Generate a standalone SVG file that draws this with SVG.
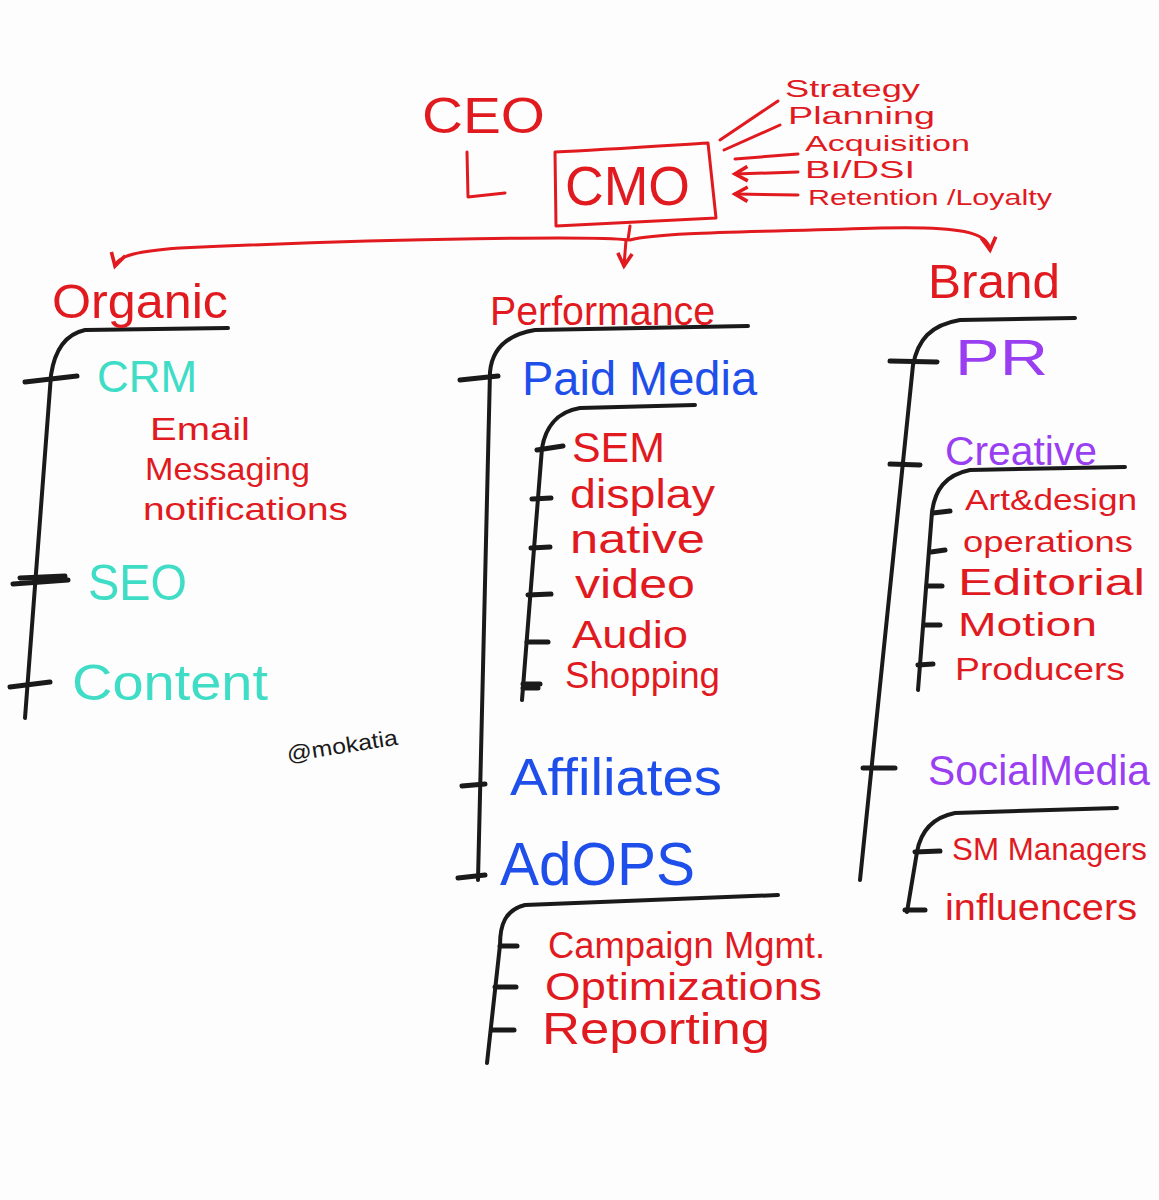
<svg xmlns="http://www.w3.org/2000/svg" width="1159" height="1200" viewBox="0 0 1159 1200">
<style>
text{font-family:"Liberation Sans","DejaVu Sans",sans-serif;}
.r{fill:#e01a1f;}
.t{fill:#3fdcc6;}
.b{fill:#1f4fea;}
.p{fill:#9a3ef2;}
.k{fill:#1a1a1a;}
.rl{stroke:#e01a1f;stroke-width:3;fill:none;stroke-linecap:round;stroke-linejoin:round;}
.bl{stroke:#1a1a1a;stroke-width:4;fill:none;stroke-linecap:round;stroke-linejoin:round;}
.tk{stroke:#1a1a1a;stroke-width:5;fill:none;stroke-linecap:round;}
</style>
<defs>
<marker id="ah" viewBox="0 0 10 10" refX="8" refY="5" markerWidth="6" markerHeight="6" orient="auto-start-reverse">
<path d="M1,1 L8,5 L1,9" fill="none" stroke="#e01a1f" stroke-width="2"/>
</marker>
</defs>
<rect width="1159" height="1200" fill="#fdfdfd"/>

<g id="connectors">
<!-- CEO L -->
<path class="rl" d="M467,152 L468,197 L505,193"/>
<!-- responsibilities -->
<path class="rl" d="M720,140 L778,101"/>
<path class="rl" d="M724,150 L780,125"/>
<path class="rl" d="M735,159 L798,154"/>
<path class="rl" d="M735,174 L798,172" marker-start="url(#ah)"/>
<path class="rl" d="M735,194 L798,195" marker-start="url(#ah)"/>
<!-- CMO to departments -->
<path class="rl" d="M630,226 L628,240 C600,236 400,238 180,248 C140,251 118,255 115,266" marker-end="url(#ah)"/>
<path class="rl" d="M626,240 L624,266" marker-end="url(#ah)"/>
<path class="rl" d="M630,240 C660,232 760,232 880,228 C960,226 988,232 990,250" marker-end="url(#ah)"/>

<!-- Organic tree -->
<path class="bl" d="M228,328 L85,330 C62,335 54,355 51,375 L25,718"/>
<path class="tk" d="M25,382 L77,376"/>
<path class="tk" d="M13,584 L68,580 M20,578 L65,576"/>
<path class="tk" d="M10,687 L50,682"/>

<!-- Performance tree -->
<path class="bl" d="M748,326 L535,330 C505,335 492,350 490,372 L478,880"/>
<path class="tk" d="M460,380 L498,376"/>
<path class="tk" d="M462,786 L485,784"/>
<path class="tk" d="M458,878 L485,875"/>
<!-- Paid media subtree -->
<path class="bl" d="M695,405 L580,408 C555,412 545,430 542,448 L522,700"/>
<path class="tk" d="M537,450 L563,446"/>
<path class="tk" d="M532,499 L551,498"/>
<path class="tk" d="M531,548 L550,547"/>
<path class="tk" d="M528,595 L551,594"/>
<path class="tk" d="M527,642 L548,642"/>
<path class="tk" d="M523,684 L540,684 M523,688 L538,688"/>
<!-- AdOps subtree -->
<path class="bl" d="M778,895 L525,905 C505,910 500,925 500,945 L487,1063"/>
<path class="tk" d="M500,946 L517,946"/>
<path class="tk" d="M495,987 L516,987"/>
<path class="tk" d="M492,1030 L514,1030"/>

<!-- Brand tree -->
<path class="bl" d="M1075,318 L960,320 C930,325 918,340 913,365 L860,880"/>
<path class="tk" d="M890,361 L937,362"/>
<path class="tk" d="M890,464 L920,465"/>
<path class="tk" d="M863,768 L895,768"/>
<!-- Creative subtree -->
<path class="bl" d="M1125,467 L970,470 C945,475 935,490 932,512 L918,690"/>
<path class="tk" d="M933,513 L950,511"/>
<path class="tk" d="M931,552 L945,550"/>
<path class="tk" d="M927,586 L942,586"/>
<path class="tk" d="M924,625 L940,625"/>
<path class="tk" d="M918,665 L933,664"/>
<!-- Social Media subtree -->
<path class="bl" d="M1117,808 L955,813 C930,818 920,835 917,852 L907,912"/>
<path class="tk" d="M915,852 L940,851"/>
<path class="tk" d="M905,910 L925,910"/>
</g>

<g id="ceo"><text class="r" x="422" y="133" font-size="50" textLength="123" lengthAdjust="spacingAndGlyphs">CEO</text></g>
<g id="cmo">
<path class="rl" d="M555,152 C600,150 660,146 708,143 L716,218 L556,226 Z"/>
<text class="r" x="565" y="205" font-size="56" textLength="125" lengthAdjust="spacingAndGlyphs">CMO</text>
</g>
<g id="cmo-roles">
<text class="r" x="785" y="97" font-size="23" textLength="135" lengthAdjust="spacingAndGlyphs">Strategy</text>
<text class="r" x="788" y="124" font-size="23" textLength="147" lengthAdjust="spacingAndGlyphs">Planning</text>
<text class="r" x="805" y="151" font-size="22" textLength="165" lengthAdjust="spacingAndGlyphs">Acquisition</text>
<text class="r" x="805" y="178" font-size="23" textLength="110" lengthAdjust="spacingAndGlyphs">BI/DSI</text>
<text class="r" x="808" y="205" font-size="22" textLength="244" lengthAdjust="spacingAndGlyphs">Retention /Loyalty</text>
</g>

<g id="organic">
<text class="r" x="52" y="318" font-size="48" textLength="176" lengthAdjust="spacingAndGlyphs">Organic</text>
</g>
<g id="crm">
<text class="t" x="97" y="392" font-size="44" textLength="100" lengthAdjust="spacingAndGlyphs">CRM</text>
<text class="r" x="150" y="440" font-size="32" textLength="100" lengthAdjust="spacingAndGlyphs">Email</text>
<text class="r" x="145" y="480" font-size="32" textLength="165" lengthAdjust="spacingAndGlyphs">Messaging</text>
<text class="r" x="143" y="520" font-size="32" textLength="205" lengthAdjust="spacingAndGlyphs">notifications</text>
</g>
<g id="seo"><text class="t" x="88" y="600" font-size="50" textLength="99" lengthAdjust="spacingAndGlyphs">SEO</text></g>
<g id="content"><text class="t" x="72" y="700" font-size="50" textLength="196" lengthAdjust="spacingAndGlyphs">Content</text></g>

<g id="performance"><text class="r" x="490" y="325" font-size="40" textLength="225" lengthAdjust="spacingAndGlyphs">Performance</text></g>
<g id="paid-media">
<text class="b" x="522" y="395" font-size="48" textLength="235" lengthAdjust="spacingAndGlyphs">Paid Media</text>
<text class="r" x="572" y="462" font-size="42" textLength="93" lengthAdjust="spacingAndGlyphs">SEM</text>
<text class="r" x="570" y="508" font-size="40" textLength="145" lengthAdjust="spacingAndGlyphs">display</text>
<text class="r" x="570" y="553" font-size="40" textLength="135" lengthAdjust="spacingAndGlyphs">native</text>
<text class="r" x="575" y="598" font-size="40" textLength="120" lengthAdjust="spacingAndGlyphs">video</text>
<text class="r" x="572" y="648" font-size="38" textLength="116" lengthAdjust="spacingAndGlyphs">Audio</text>
<text class="r" x="565" y="688" font-size="36" textLength="155" lengthAdjust="spacingAndGlyphs">Shopping</text>
</g>
<g id="affiliates"><text class="b" x="510" y="795" font-size="52" textLength="212" lengthAdjust="spacingAndGlyphs">Affiliates</text></g>
<g id="adops">
<text class="b" x="500" y="885" font-size="62" textLength="195" lengthAdjust="spacingAndGlyphs">AdOPS</text>
<text class="r" x="548" y="958" font-size="36" textLength="277" lengthAdjust="spacingAndGlyphs">Campaign Mgmt.</text>
<text class="r" x="545" y="1000" font-size="38" textLength="277" lengthAdjust="spacingAndGlyphs">Optimizations</text>
<text class="r" x="542" y="1044" font-size="44" textLength="228" lengthAdjust="spacingAndGlyphs">Reporting</text>
</g>

<g id="brand"><text class="r" x="928" y="298" font-size="48" textLength="132" lengthAdjust="spacingAndGlyphs">Brand</text></g>
<g id="pr"><text class="p" x="955" y="375" font-size="50" textLength="93" lengthAdjust="spacingAndGlyphs">PR</text></g>
<g id="creative">
<text class="p" x="945" y="465" font-size="40" textLength="152" lengthAdjust="spacingAndGlyphs">Creative</text>
<text class="r" x="965" y="510" font-size="30" textLength="172" lengthAdjust="spacingAndGlyphs">Art&amp;design</text>
<text class="r" x="963" y="552" font-size="30" textLength="170" lengthAdjust="spacingAndGlyphs">operations</text>
<text class="r" x="958" y="595" font-size="36" textLength="187" lengthAdjust="spacingAndGlyphs">Editorial</text>
<text class="r" x="958" y="636" font-size="34" textLength="139" lengthAdjust="spacingAndGlyphs">Motion</text>
<text class="r" x="955" y="680" font-size="32" textLength="170" lengthAdjust="spacingAndGlyphs">Producers</text>
</g>
<g id="social-media">
<text class="p" x="928" y="785" font-size="42" textLength="222" lengthAdjust="spacingAndGlyphs">SocialMedia</text>
<text class="r" x="952" y="860" font-size="32" textLength="195" lengthAdjust="spacingAndGlyphs">SM Managers</text>
<text class="r" x="945" y="920" font-size="36" textLength="192" lengthAdjust="spacingAndGlyphs">influencers</text>
</g>

<g id="signature"><text class="k" x="288" y="762" font-size="22" textLength="112" lengthAdjust="spacingAndGlyphs" transform="rotate(-9 288 762)">@mokatia</text></g>
</svg>
